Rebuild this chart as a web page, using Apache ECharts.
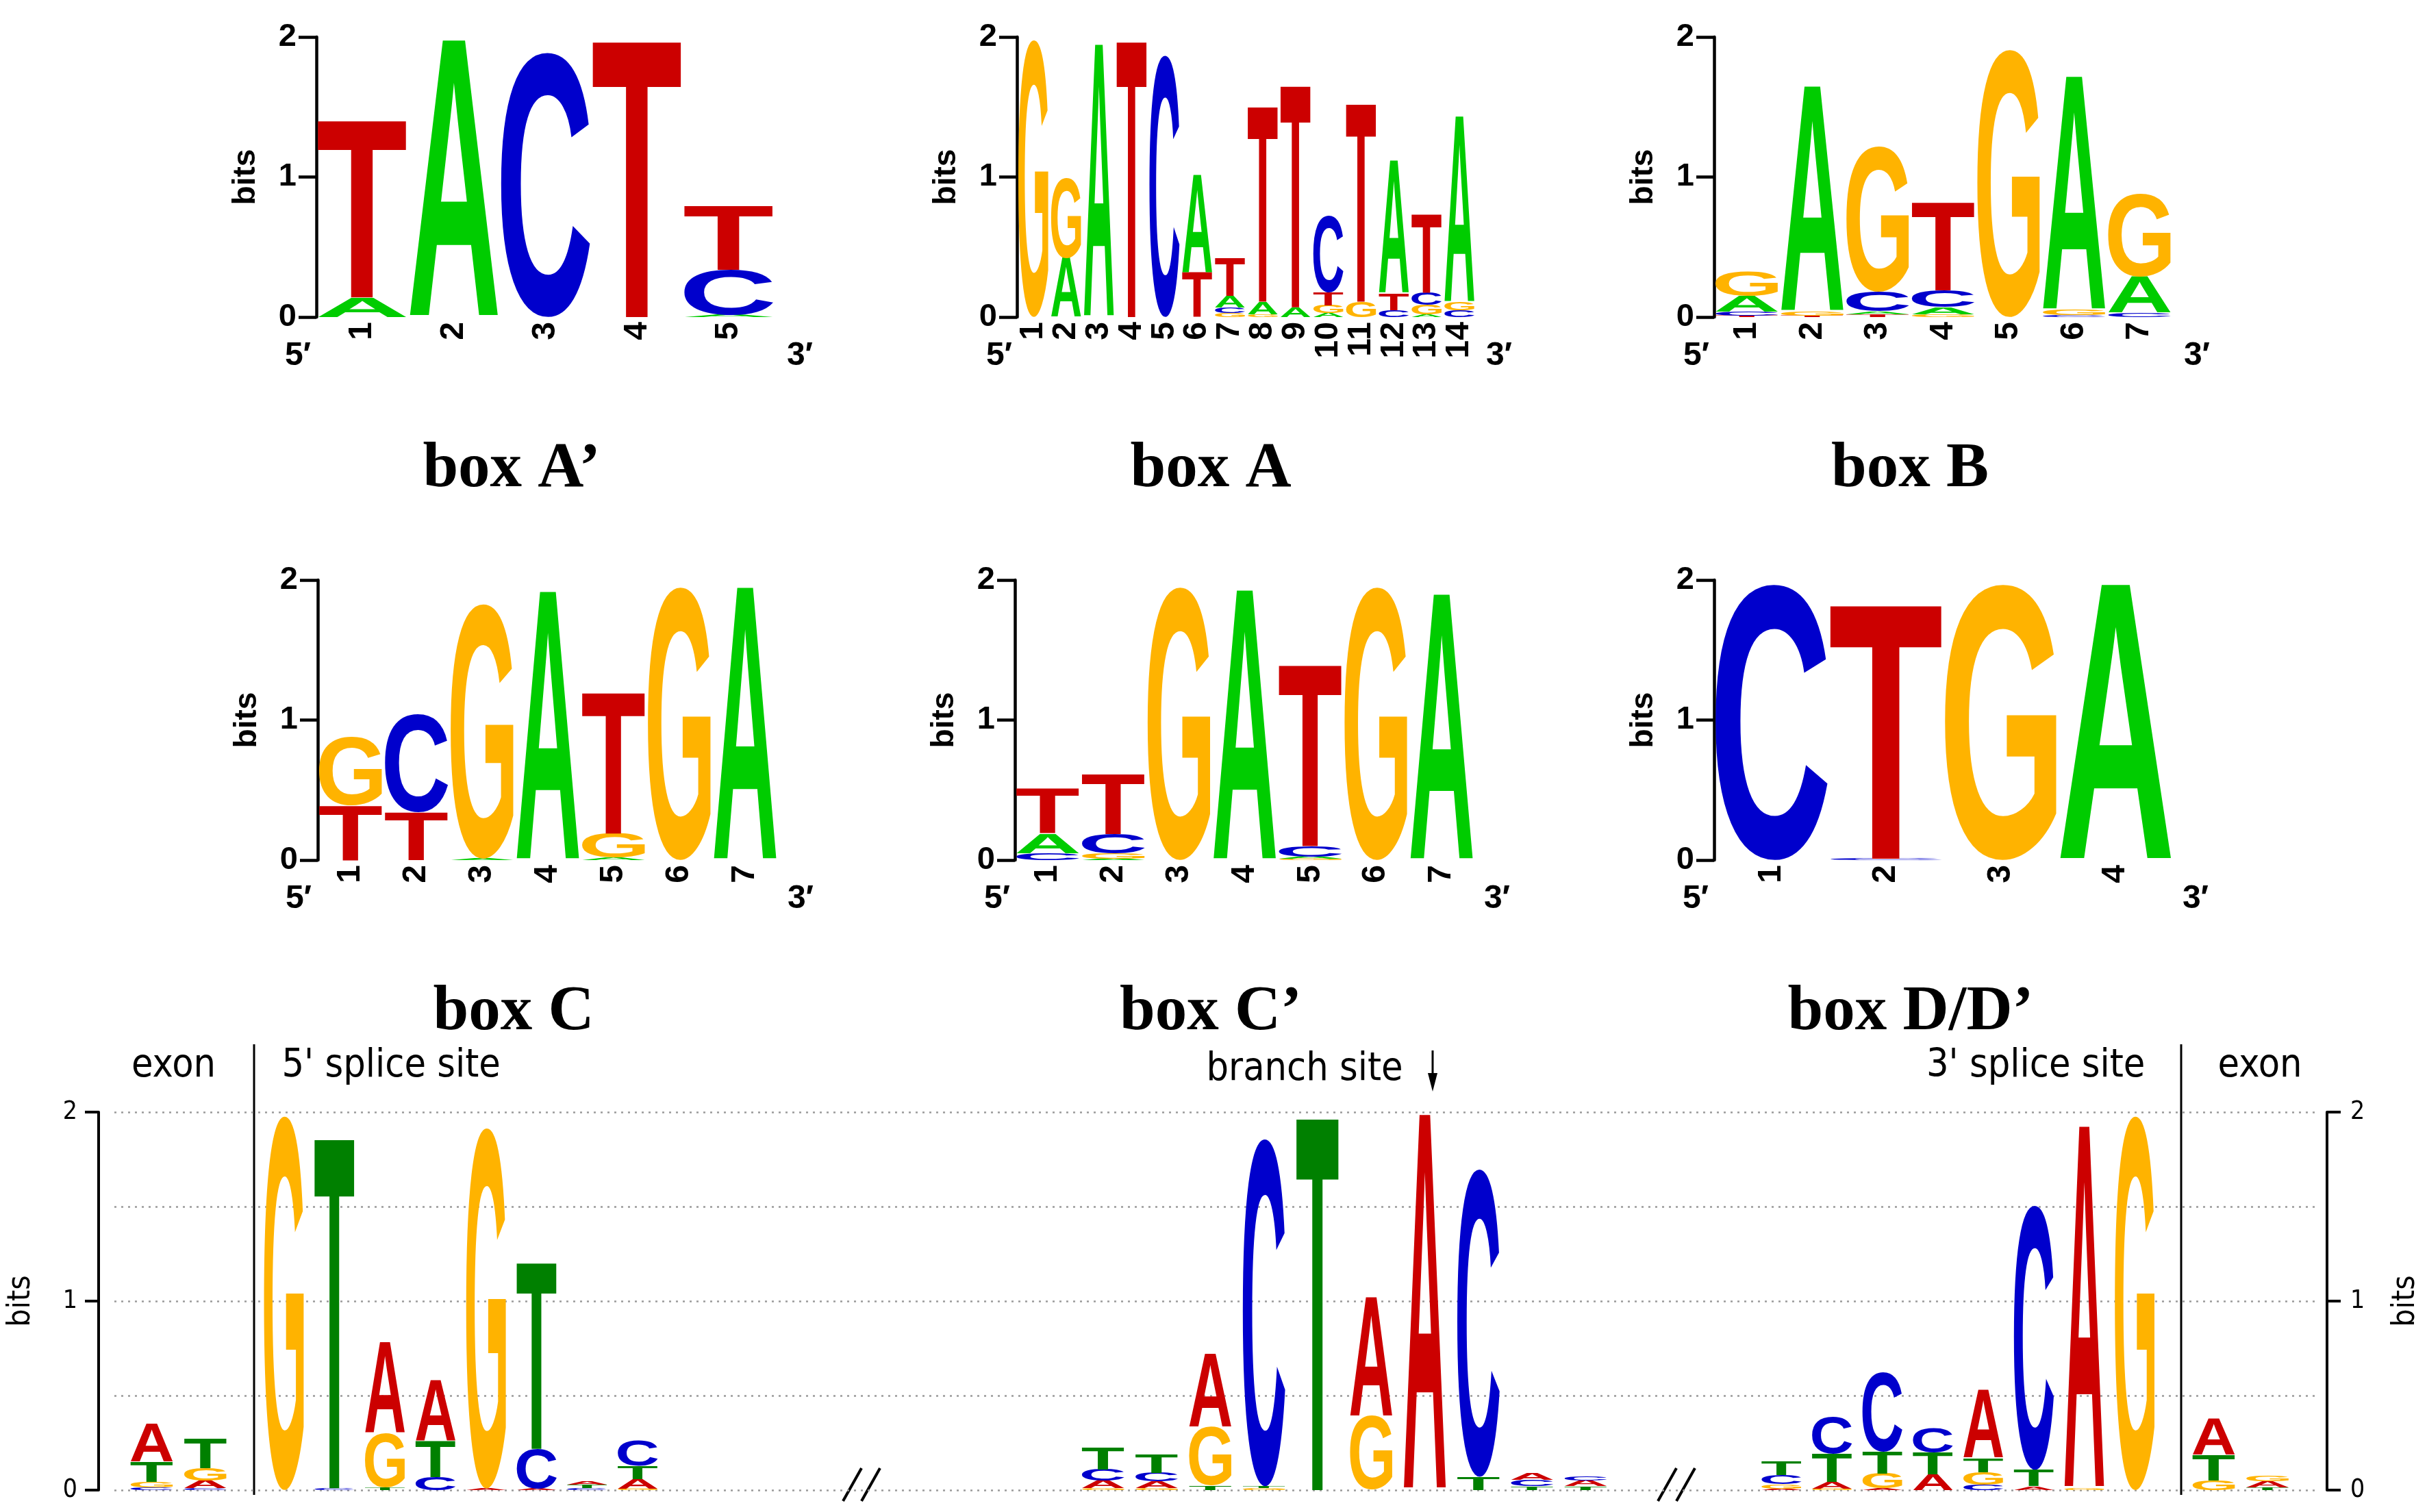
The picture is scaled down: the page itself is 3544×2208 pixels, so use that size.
<!DOCTYPE html>
<html>
<head>
<meta charset="utf-8">
<script src="https://cdn.jsdelivr.net/npm/echarts@6/dist/echarts.min.js"></script>
<style>
  html, body { margin: 0; padding: 0; background: #fff; }
  #chart { width: 3544px; height: 2208px; }
</style>
</head>
<body>
<div id="chart"></div>
<script>
// letters per column, bottom -> top, [letter, bits]
var boxAprime = [
  [['A', 0.14], ['T', 1.27]],
  [['A', 1.98]],
  [['C', 1.89]],
  [['T', 1.98]],
  [['A', 0.015], ['C', 0.32], ['T', 0.46]]
];
var boxA = [
  [['G', 1.98]],
  [['A', 0.42], ['G', 0.57]],
  [['A', 1.95]],
  [['T', 1.98]],
  [['C', 1.87]],
  [['T', 0.32], ['A', 0.70]],
  [['G', 0.03], ['C', 0.04], ['A', 0.08], ['T', 0.27]],
  [['G', 0.02], ['A', 0.09], ['T', 1.40]],
  [['A', 0.07], ['T', 1.59]],
  [['A', 0.03], ['G', 0.055], ['T', 0.095], ['C', 0.55]],
  [['G', 0.11], ['T', 1.42]],
  [['C', 0.05], ['T', 0.12], ['A', 0.95]],
  [['A', 0.02], ['G', 0.068], ['C', 0.09], ['T', 0.56]],
  [['C', 0.049], ['G', 0.056], ['A', 1.33]]
];
var boxB = [
  [['T', 0.01], ['C', 0.03], ['A', 0.11], ['G', 0.17]],
  [['T', 0.01], ['G', 0.03], ['A', 1.61]],
  [['T', 0.02], ['A', 0.02], ['C', 0.14], ['G', 1.04]],
  [['G', 0.02], ['A', 0.05], ['C', 0.12], ['T', 0.63]],
  [['G', 1.91]],
  [['C', 0.015], ['G', 0.035], ['A', 1.67]],
  [['C', 0.03], ['A', 0.26], ['G', 0.59]]
];
var boxC = [
  [['T', 0.39], ['G', 0.49]],
  [['T', 0.34], ['C', 0.70]],
  [['A', 0.01], ['G', 1.82]],
  [['A', 1.92]],
  [['A', 0.015], ['G', 0.175], ['T', 1.01]],
  [['G', 1.95]],
  [['A', 1.95]]
];
var boxCprime = [
  [['C', 0.05], ['A', 0.14], ['T', 0.32]],
  [['A', 0.01], ['G', 0.035], ['C', 0.14], ['T', 0.43]],
  [['G', 1.95]],
  [['A', 1.93]],
  [['G', 0.01], ['A', 0.015], ['C', 0.075], ['T', 1.30]],
  [['G', 1.95]],
  [['A', 1.90]]
];
var boxD = [
  [['C', 1.97]],
  [['C', 0.01], ['T', 1.82]],
  [['G', 1.97]],
  [['A', 1.97]]
];

var exonLeft = [
  [['C', 0.015], ['G', 0.03], ['T', 0.105], ['A', 0.20]],
  [['C', 0.01], ['A', 0.04], ['G', 0.065], ['T', 0.16]]
];
var splice5 = [
  [['G', 1.98]],
  [['C', 0.01], ['T', 1.86]],
  [['T', 0.015], ['G', 0.285], ['A', 0.48]],
  [['C', 0.07], ['T', 0.19], ['A', 0.32]],
  [['A', 0.008], ['G', 1.91]],
  [['A', 0.008], ['C', 0.21], ['T', 0.99]],
  [['C', 0.01], ['T', 0.02], ['A', 0.02]],
  [['G', 0.008], ['A', 0.05], ['T', 0.07], ['C', 0.135]]
];
var branchSite = [
  [['G', 0.01], ['A', 0.04], ['C', 0.06], ['T', 0.115]],
  [['G', 0.01], ['A', 0.035], ['C', 0.045], ['T', 0.10]],
  [['T', 0.025], ['G', 0.31], ['A', 0.39]],
  [['G', 0.01], ['T', 0.01], ['C', 1.84]],
  [['T', 1.98]],
  [['G', 0.39], ['A', 0.63]],
  [['A', 1.99]],
  [['T', 0.07], ['C', 1.63]],
  [['T', 0.02], ['C', 0.035], ['A', 0.035]],
  [['T', 0.02], ['A', 0.03], ['C', 0.025]]
];
var splice3 = [
  [['A', 0.008], ['G', 0.025], ['C', 0.045], ['T', 0.075]],
  [['G', 0.008], ['A', 0.036], ['T', 0.15], ['C', 0.196]],
  [['A', 0.008], ['G', 0.08], ['T', 0.115], ['C', 0.42]],
  [['A', 0.082], ['T', 0.115], ['C', 0.128]],
  [['C', 0.028], ['G', 0.066], ['T', 0.076], ['A', 0.36]],
  [['A', 0.02], ['T', 0.087], ['C', 1.40]],
  [['G', 0.008], ['A', 1.92]],
  [['G', 1.98]]
];
var exonRight = [
  [['G', 0.05], ['T', 0.136], ['A', 0.19]],
  [['T', 0.015], ['A', 0.03], ['G', 0.03]]
];

var pos5 = ['1', '2', '3', '4', '5'];
var pos14 = ['1', '2', '3', '4', '5', '6', '7', '8', '9', '10', '11', '12', '13', '14'];
var pos7 = ['1', '2', '3', '4', '5', '6', '7'];
var pos4 = ['1', '2', '3', '4'];
var bitTicks = [0, 1, 2];

var titlesTop = ['box A\u2019', 'box A', 'box B'];
var titlesMid = ['box C', 'box C\u2019', 'box D/D\u2019'];
var regionLabels = ['exon', "5' splice site", 'branch site', "3' splice site", 'exon'];

var topColors = { A: '#00cc00', C: '#0000cc', G: '#ffb300', T: '#cc0000' };
var bottomColors = { A: '#cc0000', C: '#0000cc', G: '#ffb300', T: '#008000' };

var LETTERS = ['A', 'C', 'G', 'T'];
var LETTER_FONT = 'bold 200px "Liberation Sans", Arial, sans-serif';
var SANS = '"Liberation Sans", Arial, sans-serif';
var COND = '"DejaVu Sans Condensed", "DejaVu Sans", sans-serif';

// ink box of each glyph, measured around a centre / middle anchor
var glyphBox = {};
(function () {
  var ctx = document.createElement('canvas').getContext('2d');
  ctx.font = LETTER_FONT;
  ctx.textAlign = 'center';
  ctx.textBaseline = 'middle';
  LETTERS.forEach(function (ch) {
    var m = ctx.measureText(ch);
    glyphBox[ch] = {
      l: m.actualBoundingBoxLeft, r: m.actualBoundingBoxRight,
      a: m.actualBoundingBoxAscent, d: m.actualBoundingBoxDescent
    };
  });
})();

function stack(cols) {
  var out = [];
  cols.forEach(function (col, i) {
    var base = 0;
    col.forEach(function (p) {
      out.push([i, base, base + p[1], LETTERS.indexOf(p[0])]);
      base += p[1];
    });
  });
  return out;
}

function letterRender(colors, widthOf) {
  return function (params, api) {
    var i = api.value(0);
    var ch = LETTERS[api.value(3)];
    var pb = api.coord([i, api.value(1)]);
    var pt = api.coord([i, api.value(2)]);
    var w = widthOf(api.size([1, 0])[0]);
    var h = pb[1] - pt[1];
    if (h < 0.3) return;
    var g = glyphBox[ch];
    var sx = w / (g.l + g.r);
    var sy = h / (g.a + g.d);
    return {
      type: 'text',
      x: pb[0] - w / 2 + g.l * sx,
      y: pt[1] + g.a * sy,
      scaleX: sx,
      scaleY: sy,
      silent: true,
      style: {
        text: ch, font: LETTER_FONT, fill: colors[ch],
        align: 'center', verticalAlign: 'middle',
        textAlign: 'center', textVerticalAlign: 'middle'
      }
    };
  };
}

var topLogos = [
  { cols: boxAprime, pos: pos5, left: 462, top: 54, width: 669, p5: 435, p3: 1168 },
  { cols: boxA, pos: pos14, left: 1485, top: 54, width: 670, p5: 1459, p3: 2189 },
  { cols: boxB, pos: pos7, left: 2503, top: 54, width: 669, p5: 2477, p3: 3208 },
  { cols: boxC, pos: pos7, left: 464, top: 847, width: 672, p5: 436, p3: 1169 },
  { cols: boxCprime, pos: pos7, left: 1482, top: 847, width: 671, p5: 1456, p3: 2186 },
  { cols: boxD, pos: pos4, left: 2503, top: 847, width: 670, p5: 2476, p3: 3206 }
];
var LOGO_H = 409;

var segments = [
  { cols: exonLeft, left: 182.3, width: 156.8 },
  { cols: splice5, left: 377.7, width: 590.4 },
  { cols: branchSite, left: 1571.6, width: 783 },
  { cols: splice3, left: 2564.5, width: 589.6 },
  { cols: exonRight, left: 3193.4, width: 157 }
];
var BOT_TOP = 1624, BOT_H = 552;

var grids = [], xAxes = [], yAxes = [], series = [], graphics = [];

topLogos.forEach(function (lg, k) {
  grids.push({ left: lg.left, top: lg.top, width: lg.width, height: LOGO_H });
  xAxes.push({
    gridIndex: k, type: 'category', data: lg.pos,
    axisLine: { show: false }, axisTick: { show: false }, splitLine: { show: false },
    axisLabel: {
      interval: 0, rotate: 90, margin: 7, color: '#000',
      fontSize: 48, fontWeight: 'bold', fontFamily: SANS
    }
  });
  yAxes.push({
    gridIndex: k, type: 'value', min: 0, max: 2, interval: 1,
    axisLine: { show: true, lineStyle: { color: '#000', width: 4.5 } },
    axisTick: { show: true, length: 26, lineStyle: { color: '#000', width: 4.5 } },
    axisLabel: { margin: 29, color: '#000', fontSize: 47, fontWeight: 'bold', fontFamily: SANS },
    splitLine: { show: false },
    name: 'bits', nameLocation: 'middle', nameRotate: 90, nameGap: 80,
    nameTextStyle: { color: '#000', fontSize: 46, fontWeight: 'bold', fontFamily: SANS }
  });
  series.push({
    type: 'custom', xAxisIndex: k, yAxisIndex: k, silent: true,
    data: stack(lg.cols),
    renderItem: letterRender(topColors, function (band) { return band - 4; })
  });
  var cy = lg.top + LOGO_H + 57;
  [['5\u2032', lg.p5], ['3\u2032', lg.p3]].forEach(function (t) {
    graphics.push({
      type: 'text', x: t[1], y: cy, silent: true,
      style: {
        text: t[0], font: 'bold 48px ' + SANS, fill: '#000',
        align: 'center', verticalAlign: 'middle', textAlign: 'center', textVerticalAlign: 'middle'
      }
    });
  });
});

// background grid of the bottom logo: dotted grid lines and both bit axes
var bg = grids.length;
grids.push({ left: 150, top: BOT_TOP, width: 3248, height: BOT_H });
xAxes.push({ gridIndex: bg, type: 'value', show: false, min: 0, max: 1 });
yAxes.push({
  gridIndex: bg, type: 'value', min: 0, max: 2, interval: 0.5, position: 'left',
  axisLine: { show: false }, axisTick: { show: false }, axisLabel: { show: false },
  splitLine: { show: true, lineStyle: { color: '#9a9a9a', width: 2.5, type: [3, 7] } }
});
['left', 'right'].forEach(function (side) {
  yAxes.push({
    gridIndex: bg, type: 'value', min: 0, max: 2, interval: 1, position: side,
    offset: side === 'left' ? 23 : 17.5,
    axisLine: { show: true, lineStyle: { color: '#000', width: 4 } },
    axisTick: { show: true, length: 20, lineStyle: { color: '#000', width: 4 } },
    axisLabel: {
      margin: side === 'left' ? 31 : 34, color: '#000', fontSize: 37, fontFamily: COND,
      customValues: bitTicks
    },
    splitLine: { show: false },
    name: 'bits', nameLocation: 'middle', nameRotate: 90,
    nameGap: side === 'left' ? 90 : 92,
    nameTextStyle: { color: '#000', fontSize: 46, fontFamily: COND }
  });
});

segments.forEach(function (sg) {
  var gi = grids.length;
  grids.push({ left: sg.left, top: BOT_TOP, width: sg.width, height: BOT_H });
  xAxes.push({ gridIndex: gi, type: 'category', show: false, data: sg.cols.map(function (c, i) { return String(i + 1); }) });
  yAxes.push({ gridIndex: gi, type: 'value', show: false, min: 0, max: 2 });
  series.push({
    type: 'custom', xAxisIndex: xAxes.length - 1, yAxisIndex: yAxes.length - 1, silent: true,
    data: stack(sg.cols),
    renderItem: letterRender(bottomColors, function (band) { return band * 0.79; })
  });
});

// titles
titlesTop.forEach(function (t, i) {
  graphics.push({
    type: 'text', x: [747, 1768, 2789][i], y: 686, silent: true,
    style: {
      text: t, font: 'bold 93px "Liberation Serif", "Times New Roman", serif', fill: '#000',
      align: 'center', verticalAlign: 'middle', textAlign: 'center', textVerticalAlign: 'middle'
    }
  });
});
titlesMid.forEach(function (t, i) {
  graphics.push({
    type: 'text', x: [750, 1768, 2790][i], y: 1479, silent: true,
    style: {
      text: t, font: 'bold 93px "Liberation Serif", "Times New Roman", serif', fill: '#000',
      align: 'center', verticalAlign: 'middle', textAlign: 'center', textVerticalAlign: 'middle'
    }
  });
});

// region labels of the intron logo
[[192, 1557], [411.5, 1557], [1761.5, 1562], [2813, 1557], [3238.6, 1557]].forEach(function (p, i) {
  graphics.push({
    type: 'text', x: p[0], y: p[1], silent: true,
    style: {
      text: regionLabels[i], font: '57px ' + COND, fill: '#000',
      align: 'left', verticalAlign: 'middle', textAlign: 'left', textVerticalAlign: 'middle'
    }
  });
});

// separators between exon and intron
[371, 3185].forEach(function (x) {
  graphics.push({
    type: 'line', silent: true,
    shape: { x1: x, y1: 1525, x2: x, y2: 2183 },
    style: { stroke: '#000', lineWidth: 3 }
  });
});

// branch point arrow
graphics.push({
  type: 'line', silent: true,
  shape: { x1: 2092, y1: 1534, x2: 2092, y2: 1575 },
  style: { stroke: '#000', lineWidth: 3 }
});
graphics.push({
  type: 'polygon', silent: true,
  shape: { points: [[2085, 1567], [2099, 1567], [2092, 1594]] },
  style: { fill: '#000' }
});

// sequence breaks "//"
[1231, 2421].forEach(function (x) {
  [0, 27].forEach(function (dx) {
    graphics.push({
      type: 'line', silent: true,
      shape: { x1: x + dx, y1: 2192, x2: x + dx + 27, y2: 2144 },
      style: { stroke: '#000', lineWidth: 4 }
    });
  });
});

var chart = echarts.init(document.getElementById('chart'), null, { renderer: 'canvas' });
chart.setOption({
  backgroundColor: '#fff',
  animation: false,
  grid: grids,
  xAxis: xAxes,
  yAxis: yAxes,
  series: series,
  graphic: { elements: graphics }
});
</script>
</body>
</html>
